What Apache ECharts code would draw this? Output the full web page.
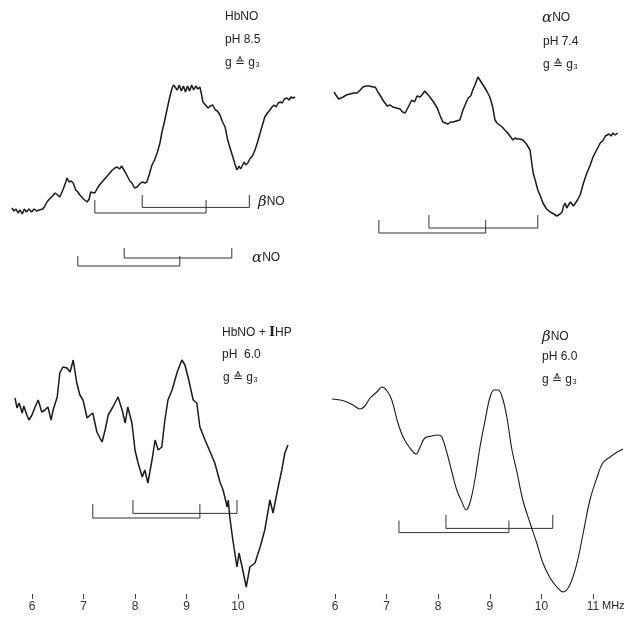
<!DOCTYPE html>
<html>
<head>
<meta charset="utf-8">
<script src="https://cdn.jsdelivr.net/npm/echarts@6/dist/echarts.min.js"></script>
<style>
  html, body { margin: 0; padding: 0; background: #fff; }
  #chart { width: 627px; height: 619px; }
</style>
</head>
<body>
<div id="chart"></div>
<script>
// ENDOR spectra at g ≙ g3: frequency (MHz) vs. signal (arbitrary units)

// HbNO, pH 8.5
const hbnoPh85 = [[5.61,36],[5.65,34.5],[5.69,35.5],[5.73,33.5],[5.77,35],[5.81,33],[5.85,35.5],[5.89,34],[5.94,35.5],[5.99,34],[6.04,35.5],[6.09,34.5],[6.14,35],[6.21,35.5],[6.25,37],[6.29,39],[6.34,40.5],[6.40,42],[6.45,43.5],[6.50,42.5],[6.54,41.5],[6.60,45],[6.65,48.5],[6.68,51],[6.72,49],[6.76,49.5],[6.80,48.5],[6.85,45],[6.89,44],[6.93,42.5],[7.00,40.5],[7.07,39],[7.11,40.5],[7.14,44],[7.17,45],[7.22,43.5],[7.27,46],[7.31,47.5],[7.36,49],[7.41,50.5],[7.46,52],[7.51,53.5],[7.56,55],[7.61,56],[7.65,56.5],[7.70,55.5],[7.74,57],[7.77,56.5],[7.82,53.5],[7.86,51.5],[7.90,49.5],[7.94,48.5],[7.99,46],[8.04,46.5],[8.09,48],[8.14,49],[8.19,48.5],[8.23,49],[8.28,53],[8.33,57.5],[8.38,60],[8.43,63.5],[8.48,68],[8.52,73.5],[8.57,79],[8.62,85],[8.67,91],[8.72,96],[8.75,97.5],[8.78,98.5],[8.82,95],[8.86,97.5],[8.90,94.5],[8.94,97],[8.98,94],[9.02,97],[9.06,94.5],[9.10,97.5],[9.14,95],[9.18,97],[9.22,95.5],[9.26,96.5],[9.29,93],[9.32,89],[9.37,87.5],[9.42,86],[9.46,87],[9.51,87.5],[9.56,85],[9.60,84.5],[9.65,82.5],[9.70,79],[9.75,76.5],[9.80,70],[9.84,66.5],[9.87,64],[9.90,61.5],[9.94,58],[9.98,55],[10.02,57],[10.05,55.5],[10.08,56.5],[10.12,59],[10.15,57.5],[10.19,58.5],[10.24,61],[10.28,62],[10.33,65],[10.38,69],[10.43,73.5],[10.48,78],[10.52,81.5],[10.57,83.5],[10.62,85],[10.66,86.5],[10.70,87.5],[10.74,86.5],[10.78,88.5],[10.82,89],[10.86,88.5],[10.90,90.5],[10.95,91],[10.99,90],[11.03,91.5],[11.07,91],[11.11,91.5]];

// αNO, pH 7.4
const alphaPh74 = [[5.98,94],[6.03,92],[6.07,90.5],[6.10,91],[6.16,91.5],[6.22,92.5],[6.29,93],[6.36,93.5],[6.43,93.5],[6.49,95],[6.54,96.5],[6.61,97],[6.68,97],[6.73,96.5],[6.78,96.5],[6.83,94],[6.87,92.5],[6.94,89.5],[7.01,87],[7.07,87.5],[7.12,86.5],[7.19,86],[7.26,85.5],[7.31,84],[7.36,83.5],[7.41,86],[7.45,88],[7.49,90],[7.54,89],[7.59,92],[7.65,91.5],[7.70,93],[7.74,94.5],[7.79,93],[7.84,91.5],[7.91,89],[7.98,86],[8.04,82],[8.09,79],[8.14,78.5],[8.19,78],[8.24,79],[8.29,79],[8.35,79.5],[8.42,80],[8.48,85],[8.53,88],[8.58,91],[8.63,92],[8.67,95],[8.72,98],[8.77,101.5],[8.82,99.5],[8.87,97.5],[8.94,94.5],[9.00,91.5],[9.03,89],[9.06,86],[9.10,80],[9.14,78.5],[9.19,77.5],[9.24,76.5],[9.29,75],[9.33,74],[9.39,72],[9.45,70],[9.49,71],[9.53,70.5],[9.58,70.5],[9.64,70],[9.71,68],[9.78,65],[9.81,59],[9.84,53.5],[9.89,49],[9.93,45],[9.98,42],[10.03,38.5],[10.10,35.5],[10.17,34],[10.24,33],[10.30,32],[10.36,33],[10.40,34],[10.43,37],[10.46,38.5],[10.49,36],[10.52,36],[10.56,39],[10.59,40],[10.62,37],[10.65,36],[10.70,40],[10.75,42.5],[10.81,48],[10.88,53.5],[10.94,57],[11.00,61.5],[11.07,65],[11.14,68.5],[11.20,70],[11.24,72],[11.27,71],[11.31,73],[11.35,72],[11.39,73.5],[11.43,72.5],[11.48,73.5]];

// HbNO + IHP, pH 6.0
const hbnoIhpPh60 = [[5.67,98],[5.71,93],[5.75,95.5],[5.81,90.5],[5.84,94],[5.90,89.5],[5.94,87],[6.00,89.5],[6.06,93.5],[6.12,97],[6.19,91],[6.25,92],[6.31,93.5],[6.37,87],[6.41,92],[6.49,98.5],[6.54,110.5],[6.60,113.5],[6.68,113],[6.74,111],[6.80,117],[6.87,105.5],[6.93,99.5],[6.99,97],[7.07,88],[7.13,89.5],[7.18,90.5],[7.26,81],[7.36,76],[7.42,82],[7.48,89.5],[7.57,93.5],[7.67,98.5],[7.75,92],[7.81,85.5],[7.86,93.5],[7.94,85.5],[8.00,72],[8.06,65.5],[8.14,58.5],[8.19,62],[8.25,55.5],[8.33,67],[8.39,77],[8.45,72],[8.52,73.5],[8.58,87],[8.64,97],[8.72,102],[8.82,111],[8.91,117],[8.97,114.5],[9.03,108.5],[9.13,97],[9.20,95.5],[9.26,83.5],[9.36,77],[9.46,71],[9.55,65.5],[9.65,56],[9.71,52],[9.79,43.5],[9.81,47],[9.84,38.5],[9.90,27],[9.98,13.5],[10.02,20.5],[10.08,13.5],[10.16,3.5],[10.23,13.5],[10.33,15.5],[10.43,23.5],[10.52,32],[10.62,47],[10.68,40.5],[10.78,53.5],[10.85,62],[10.91,70.5],[10.97,74.5]];

// βNO, pH 6.0
const betaPh60 = [[5.94,97.5],[6.10,97],[6.23,96],[6.35,94.5],[6.48,92.5],[6.58,94],[6.68,98],[6.81,101],[6.91,103.5],[7.01,101.5],[7.10,97],[7.22,85.5],[7.32,78.5],[7.45,73],[7.57,70],[7.65,73.5],[7.74,78],[7.88,79],[8.00,79.5],[8.07,78.5],[8.17,70.5],[8.27,60.5],[8.36,52],[8.46,46],[8.54,42],[8.62,46],[8.71,57],[8.81,73.5],[8.91,87],[9.00,98],[9.08,102],[9.16,102],[9.24,98.5],[9.33,88.5],[9.43,72],[9.53,60.5],[9.64,47],[9.78,35.5],[9.91,25.5],[10.03,15.5],[10.17,8],[10.30,3.5],[10.42,1],[10.55,4.5],[10.69,15.5],[10.81,30.5],[10.94,47],[11.08,58.5],[11.19,65.5],[11.33,68.5],[11.47,71],[11.58,72.5]];

// Stick diagrams: [from MHz, to MHz, bar level, leg top]
const sticksHbnoBeta = [[7.22,9.38,33.5,40],[8.14,10.22,36.3,42.5]];
const sticksHbnoAlpha = [[6.89,8.87,7,12],[7.79,9.88,11,16]];
const sticksAlpha74 = [[6.85,8.92,23.5,30],[7.82,9.93,26,32.5]];
const sticksIhp = [[7.18,9.26,38,45],[7.96,9.98,40.3,47]];
const sticksBeta60 = [[7.24,9.37,30.7,36.7],[8.15,10.22,32.8,39.5]];

// Frequency tick labels
const ticksLeft = [6, 7, 8, 9, 10];
const ticksRight = [6, 7, 8, 9, 10, 11];

const INK = '#1a1a1a';
const FONT = 'Liberation Sans, Arial, sans-serif';

const grids = [
  { left: 6.25, top: 30, width: 293.55, height: 250 },
  { left: 324.68, top: 30, width: 299.28, height: 250 },
  { left: 6.25, top: 334, width: 293.55, height: 260 },
  { left: 324.68, top: 334, width: 299.28, height: 260 }
];

function xAxisFor(i, min, max, ticks) {
  return {
    type: 'value', gridIndex: i, min: min, max: max,
    axisLine: { show: false },
    splitLine: { show: false },
    axisTick: ticks ? { show: true, length: 5, lineStyle: { color: '#444', width: 1 }, customValues: ticks } : { show: false },
    axisLabel: ticks ? { show: true, margin: 7, color: '#333', fontSize: 12, fontFamily: FONT, customValues: ticks } : { show: false }
  };
}
function yAxisFor(i, max) {
  return { type: 'value', gridIndex: i, min: 0, max: max, show: false };
}

function spectrum(i, data, width, smooth) {
  return {
    type: 'line', xAxisIndex: i, yAxisIndex: i, data: data,
    symbol: 'none', smooth: smooth || false,
    lineStyle: { color: INK, width: width }, silent: true, z: 3
  };
}
function sticks(i, list) {
  return list.map(function (s) {
    return {
      type: 'line', xAxisIndex: i, yAxisIndex: i, symbol: 'none', silent: true,
      lineStyle: { color: '#333', width: 1 }, z: 2,
      data: [[s[0], s[3]], [s[0], s[2]], [s[1], s[2]], [s[1], s[3]]]
    };
  });
}

function label(x, y, text, rich, size) {
  return {
    type: 'text', x: x, y: y, silent: true,
    style: {
      text: text, fill: '#222', font: (size || 12) + 'px ' + FONT, verticalAlign: 'middle',
      rich: rich || undefined
    }
  };
}
const greek = { g: { fontSize: 15, fontStyle: 'italic', fontFamily: 'DejaVu Serif, serif', fill: '#222' },
                n: { fontSize: 12, fontFamily: FONT, fill: '#222' },
                b: { fontSize: 13, fontWeight: 'bold', fontFamily: 'DejaVu Serif, serif', fill: '#222' } };

const chart = echarts.init(document.getElementById('chart'), null, { renderer: 'canvas' });
chart.setOption({
  animation: false,
  backgroundColor: '#fff',
  grid: grids,
  xAxis: [
    xAxisFor(0, 5.5, 11.2, null),
    xAxisFor(1, 5.8, 11.6, null),
    xAxisFor(2, 5.5, 11.2, ticksLeft),
    xAxisFor(3, 5.8, 11.6, ticksRight)
  ],
  yAxis: [yAxisFor(0, 125), yAxisFor(1, 125), yAxisFor(2, 130), yAxisFor(3, 130)],
  series: [
    spectrum(0, hbnoPh85, 1.5),
    spectrum(1, alphaPh74, 1.5),
    spectrum(2, hbnoIhpPh60, 1.5),
    spectrum(3, betaPh60, 1.1, 0.35)
  ].concat(sticks(0, sticksHbnoBeta), sticks(0, sticksHbnoAlpha), sticks(1, sticksAlpha74),
           sticks(2, sticksIhp), sticks(3, sticksBeta60)),
  graphic: [
    label(225, 17, 'HbNO'),
    label(225, 40, 'pH 8.5'),
    label(225, 63, 'g ≙ g₃'),
    label(258, 202, '{g|β}{n|NO}', greek),
    label(252, 258, '{g|α}{n|NO}', greek),

    label(542, 18, '{g|α}{n|NO}', greek),
    label(543, 42, 'pH 7.4'),
    label(543, 65, 'g ≙ g₃'),

    label(222, 333, '{n|HbNO + }{b|I}{n|HP}', greek),
    label(222, 355, 'pH  6.0'),
    label(223, 378, 'g ≙ g₃'),

    label(542, 337, '{g|β}{n|NO}', greek),
    label(542, 357, 'pH 6.0'),
    label(542, 380, 'g ≙ g₃'),

    label(602, 606, 'MHz', null, 11)
  ]
});
</script>
</body>
</html>
